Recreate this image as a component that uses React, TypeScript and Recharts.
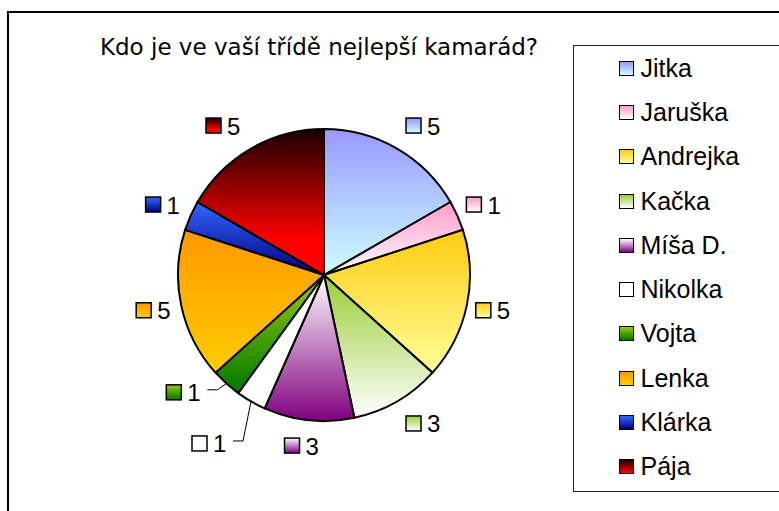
import { PieChart, Pie, Cell, Legend } from 'recharts';

// who got how many votes, clockwise from 12 o'clock
const names = ['Jitka', 'Jaruška', 'Andrejka', 'Kačka', 'Míša D.', 'Nikolka', 'Vojta', 'Lenka', 'Klárka', 'Pája'];
const votes = [5, 1, 5, 3, 3, 1, 1, 5, 1, 5];

const topColors = ['#9999ff', '#ff99cc', '#ffcc11', '#99cc33', '#ffffff', '#ffffff', '#99cc00', '#ff9900', '#3366ff', '#1a0000'];
const bottomColors = ['#ccffff', '#ffffff', '#ffff99', '#ffffff', '#800080', '#ffffff', '#007700', '#ffcc00', '#000080', '#ff0000'];

const data = names.map((name, i) => ({ name, value: votes[i] }));

const RAD = Math.PI / 180;
const labelFont = '"Liberation Sans", Arial, sans-serif';

// Excel pushed these two labels aside and drew leader lines
const labelNudge: Record<number, [number, number]> = { 5: [-14, 20], 6: [-15, -10] };

function renderLabel(props: any) {
  const { cx, cy, midAngle, outerRadius, index, value } = props;
  const c = Math.cos(-midAngle * RAD);
  const s = Math.sin(-midAngle * RAD);
  const side = Math.sign(c) * 27 * Math.min(1, 2.2 * Math.abs(c));
  let x = cx + outerRadius * c + side;
  let y = cy + (outerRadius + 26) * s;
  const nudge = labelNudge[index];
  let leader = null;
  if (nudge) {
    x += nudge[0];
    y += nudge[1];
    const ex = cx + outerRadius * c;
    const ey = cy + outerRadius * s;
    const right = x + 18;
    leader = (
      <polyline
        points={`${ex},${ey} ${right + 15},${y - 3} ${right + 5},${y - 3}`}
        fill="none"
        stroke="#000"
        strokeWidth={1}
      />
    );
  }
  return (
    <g key={`lbl-${index}`}>
      {leader}
      <rect x={x - 18} y={y - 8} width={15} height={15} fill={`url(#g${index})`} stroke="#000" strokeWidth={1.5} />
      <text x={x + 3} y={y + 8.5} fontSize={24} fontFamily={labelFont} fill="#000">
        {value}
      </text>
    </g>
  );
}

function LegendBox() {
  return (
    <div
      style={{
        width: 220,
        height: 447,
        boxSizing: 'border-box',
        border: '1.5px solid #222',
        background: '#fff',
        paddingLeft: 44.5,
        fontFamily: labelFont,
        fontSize: 25,
        color: '#000',
      }}
    >
      {names.map((n, i) => (
        <div key={n} style={{ height: 44.3, display: 'flex', alignItems: 'center' }}>
          <div
            style={{
              width: 13,
              height: 13,
              border: '1.5px solid #000',
              background: `linear-gradient(${topColors[i]}, ${bottomColors[i]})`,
              marginRight: 7,
            }}
          />
          <span>{n}</span>
        </div>
      ))}
    </div>
  );
}

export default function App() {
  return (
    <div style={{ position: 'absolute', left: 0, top: 0, width: 779, height: 511, overflow: 'hidden', background: '#fff' }}>
      <div
        style={{
          position: 'absolute',
          left: 7,
          top: 11,
          width: 820,
          height: 540,
          border: '2px solid #000',
        }}
      />
      <div style={{ position: 'absolute', left: 0, top: 0 }}>
        <PieChart width={779} height={511} margin={{ top: 0, right: 0, bottom: 0, left: 0 }}>
          <defs>
            {names.map((n, i) => (
              <linearGradient key={n} id={`g${i}`} x1="0" y1="0" x2="0" y2="1">
                <stop offset="0%" stopColor={topColors[i]} />
                <stop offset={i === 9 ? '75%' : '100%'} stopColor={bottomColors[i]} />
              </linearGradient>
            ))}
          </defs>
          <Pie
            data={data}
            dataKey="value"
            nameKey="name"
            cx={324}
            cy={275}
            outerRadius={146}
            startAngle={90}
            endAngle={-270}
            stroke="#000"
            strokeWidth={2}
            label={renderLabel}
            labelLine={false}
            isAnimationActive={false}
          >
            {data.map((d, i) => (
              <Cell key={d.name} fill={`url(#g${i})`} />
            ))}
          </Pie>
          <Legend
            layout="vertical"
            align="right"
            verticalAlign="middle"
            content={() => <LegendBox />}
            wrapperStyle={{ position: 'absolute', left: 573, top: 45, width: 220, height: 447 }}
          />
        </PieChart>
      </div>
      <svg width={779} height={80} style={{ position: 'absolute', left: 0, top: 0, pointerEvents: 'none' }}>
        <text x={319} y={55} textAnchor="middle" fontSize={23} fontFamily='"DejaVu Sans", Verdana, sans-serif' fill="#000">
          Kdo je ve vaší třídě nejlepší kamarád?
        </text>
      </svg>
    </div>
  );
}
